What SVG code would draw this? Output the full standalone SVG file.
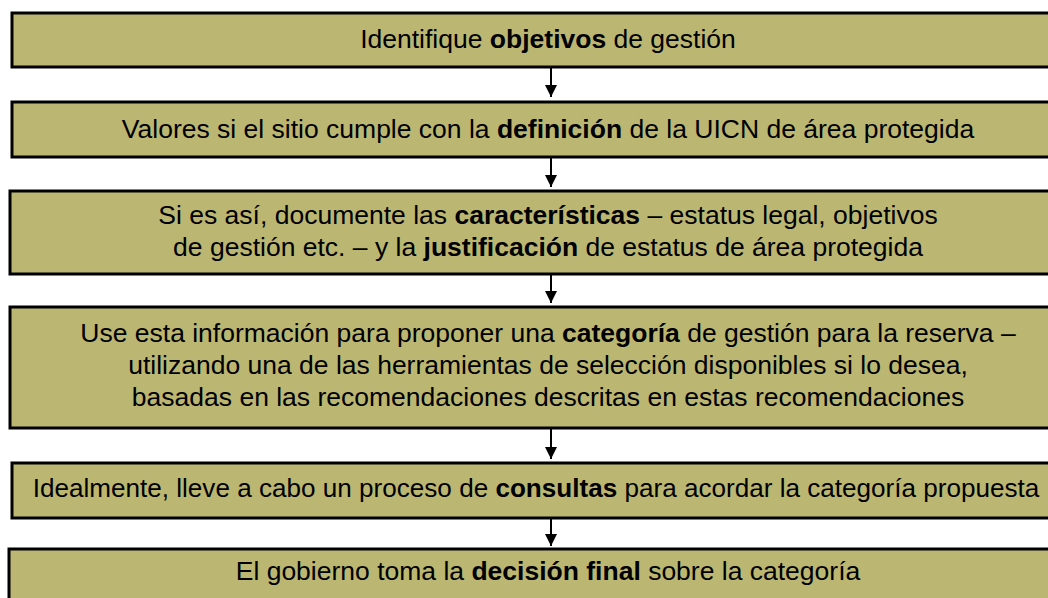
<svg xmlns="http://www.w3.org/2000/svg" width="1048" height="598" viewBox="0 0 1048 598">
<style>
.box{fill:#BBB772;stroke:#000;stroke-width:3}
.t{font-family:"Liberation Sans",Arial,sans-serif;font-size:26.5px;fill:#000;text-anchor:middle}
.s{font-size:26.1px}
.b{font-weight:bold}
.c{stroke:#000;stroke-width:2;fill:none}
</style>
<defs>
<marker id="ah" markerWidth="14" markerHeight="12" refX="12" refY="6" orient="auto" markerUnits="userSpaceOnUse">
<path d="M0,0 L12,6 L0,12 Z" fill="#000"/>
</marker>
</defs>
<rect width="1048" height="598" fill="#fff"/>
<g id="connectors">
<line class="c" x1="551" y1="67" x2="551" y2="97" marker-end="url(#ah)"/>
<line class="c" x1="551" y1="157" x2="551" y2="187" marker-end="url(#ah)"/>
<line class="c" x1="551" y1="274" x2="551" y2="303" marker-end="url(#ah)"/>
<line class="c" x1="551" y1="428" x2="551" y2="459" marker-end="url(#ah)"/>
<line class="c" x1="551" y1="518" x2="551" y2="546" marker-end="url(#ah)"/>
</g>
<g id="n1">
<rect class="box" x="12" y="13" width="1050" height="54"/>
<text class="t" x="548" y="48">Identifique <tspan class="b">objetivos</tspan> de gestión</text>
</g>
<g id="n2">
<rect class="box" x="12" y="102" width="1050" height="55"/>
<text class="t" x="548" y="138">Valores si el sitio cumple con la <tspan class="b">definición</tspan> de la UICN de área protegida</text>
</g>
<g id="n3">
<rect class="box" x="10" y="191" width="1050" height="83"/>
<text class="t" x="548" y="224">Si es así, documente las <tspan class="b">características</tspan> – estatus legal, objetivos</text>
<text class="t" x="548" y="256">de gestión etc. – y la <tspan class="b">justificación</tspan> de estatus de área protegida</text>
</g>
<g id="n4">
<rect class="box" x="10" y="307" width="1050" height="121"/>
<text class="t" x="548" y="342">Use esta información para proponer una <tspan class="b">categoría</tspan> de gestión para la reserva –</text>
<text class="t" x="548" y="374">utilizando una de las herramientas de selección disponibles si lo desea,</text>
<text class="t" x="548" y="406">basadas en las recomendaciones descritas en estas recomendaciones</text>
</g>
<g id="n5">
<rect class="box" x="12" y="463" width="1050" height="55"/>
<text class="t s" x="536" y="497">Idealmente, lleve a cabo un proceso de <tspan class="b">consultas</tspan> para acordar la categoría propuesta</text>
</g>
<g id="n6">
<rect class="box" x="9" y="549" width="1050" height="60"/>
<text class="t" x="548" y="580">El gobierno toma la <tspan class="b">decisión final</tspan> sobre la categoría</text>
</g>
</svg>
